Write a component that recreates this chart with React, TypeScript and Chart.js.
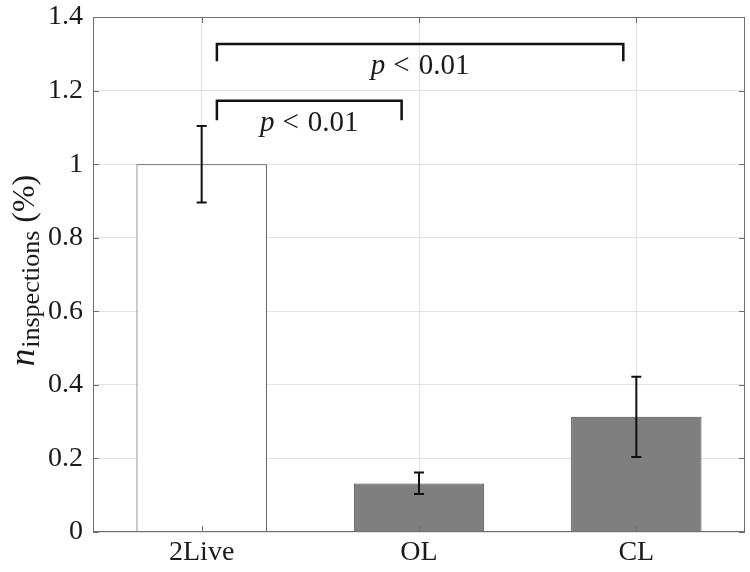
import React, { useEffect, useRef } from "react";
import { Chart, registerables } from "chart.js";

Chart.register(...registerables);

const categories = ["2Live", "OL", "CL"];
const xPositions = [1, 2, 3];
const means = [1.0, 0.132, 0.313];
const errLow = [0.896, 0.103, 0.204];
const errHigh = [1.104, 0.162, 0.422];
const yTickValues = [0, 0.2, 0.4, 0.6, 0.8, 1, 1.2, 1.4];
const yTickLabels = ["0", "0.2", "0.4", "0.6", "0.8", "1", "1.2", "1.4"];
const sigFrom = [1.07, 1.07];
const sigTo = [1.92, 2.94];
const sigTop = [1.172, 1.3265];
const sigLeg = [1.1226, 1.283];
const sigSymbol = ["p", "p"];
const sigRelation = ["<", "<"];
const sigValue = ["0.01", "0.01"];

const FONT = "'Liberation Serif', 'DejaVu Serif', serif";
const AXIS_COLOR = "#6e6e6e";
const GRID_COLOR = "#e3e3e3";
const TEXT_COLOR = "#1a1a1a";

const decorPlugin = {
  id: "decor",
  afterDatasetsDraw(chart: any) {
    const ctx = chart.ctx;
    const xs = chart.scales.x;
    const ys = chart.scales.y;
    const area = chart.chartArea;
    ctx.save();
    // error bars
    ctx.strokeStyle = "#111";
    ctx.lineWidth = 2;
    for (let i = 0; i < means.length; i++) {
      const px = xs.getPixelForValue(xPositions[i]);
      const lo = ys.getPixelForValue(errLow[i]);
      const hi = ys.getPixelForValue(errHigh[i]);
      ctx.beginPath();
      ctx.moveTo(px, lo);
      ctx.lineTo(px, hi);
      ctx.moveTo(px - 5, lo);
      ctx.lineTo(px + 5, lo);
      ctx.moveTo(px - 5, hi);
      ctx.lineTo(px + 5, hi);
      ctx.stroke();
    }
    // box + inward ticks
    ctx.strokeStyle = AXIS_COLOR;
    ctx.lineWidth = 1;
    ctx.strokeRect(area.left + 0.5, area.top + 0.5, area.right - area.left - 1, area.bottom - area.top - 1);
    ctx.beginPath();
    for (const v of xPositions) {
      const px = Math.round(xs.getPixelForValue(v)) + 0.5;
      ctx.moveTo(px, area.bottom);
      ctx.lineTo(px, area.bottom - 6);
      ctx.moveTo(px, area.top);
      ctx.lineTo(px, area.top + 6);
    }
    for (const v of yTickValues) {
      const py = Math.round(ys.getPixelForValue(v)) + 0.5;
      ctx.moveTo(area.left, py);
      ctx.lineTo(area.left + 6, py);
      ctx.moveTo(area.right, py);
      ctx.lineTo(area.right - 6, py);
    }
    ctx.stroke();
    // p-value labels
    ctx.fillStyle = TEXT_COLOR;
    ctx.textBaseline = "alphabetic";
    ctx.textAlign = "left";
    const fs = 29;
    const gap1 = 8;
    const gap2 = 9;
    for (let i = 0; i < sigSymbol.length; i++) {
      const cx = (xs.getPixelForValue(sigFrom[i]) + xs.getPixelForValue(sigTo[i])) / 2;
      const by = ys.getPixelForValue(sigTop[i]) + 30;
      ctx.font = `italic ${fs}px ${FONT}`;
      const w1 = ctx.measureText(sigSymbol[i]).width;
      ctx.font = `${fs}px ${FONT}`;
      const w2 = ctx.measureText(sigRelation[i]).width;
      const w3 = ctx.measureText(sigValue[i]).width;
      let x0 = cx - (w1 + gap1 + w2 + gap2 + w3) / 2;
      ctx.font = `italic ${fs}px ${FONT}`;
      ctx.fillText(sigSymbol[i], x0, by);
      x0 += w1 + gap1;
      ctx.font = `${fs}px ${FONT}`;
      ctx.fillText(sigRelation[i], x0, by);
      x0 += w2 + gap2;
      ctx.fillText(sigValue[i], x0, by);
    }
    // y axis title
    ctx.save();
    ctx.translate(34, 271);
    ctx.rotate(-Math.PI / 2);
    ctx.font = `italic 35px ${FONT}`;
    const wn = ctx.measureText("n").width;
    ctx.font = `26px ${FONT}`;
    const ws = ctx.measureText("inspections").width;
    ctx.font = `32px ${FONT}`;
    const wp = ctx.measureText(" (%)").width;
    let x = -(wn + ws + wp) / 2;
    ctx.font = `italic 35px ${FONT}`;
    ctx.fillText("n", x, 0);
    x += wn + 1;
    ctx.font = `26px ${FONT}`;
    ctx.fillText("inspections", x, 5);
    x += ws;
    ctx.font = `32px ${FONT}`;
    ctx.fillText(" (%)", x, 0);
    ctx.restore();
    ctx.restore();
  },
};

export default function App() {
  const ref = useRef<HTMLCanvasElement>(null);
  useEffect(() => {
    document.body.style.margin = "0";
    const bracketSets = sigFrom.map((f, i) => ({
      type: "line" as const,
      data: [
        { x: f, y: sigLeg[i] },
        { x: f, y: sigTop[i] },
        { x: sigTo[i], y: sigTop[i] },
        { x: sigTo[i], y: sigLeg[i] },
      ],
      borderColor: "#111",
      borderWidth: 2.5,
      pointRadius: 0,
      tension: 0,
      fill: false,
      borderCapStyle: "square" as const,
    }));
    const chart = new Chart(ref.current!, {
      type: "bar",
      data: {
        datasets: [
          {
            type: "bar",
            data: xPositions.map((x, i) => ({ x, y: means[i] })),
            backgroundColor: ["#ffffff", "#7f7f7f", "#7f7f7f"],
            borderColor: ["#3a3a3a", "#4a4a4a", "#4a4a4a"],
            borderWidth: 1,
            barPercentage: 0.6,
            categoryPercentage: 1,
          } as any,
          ...bracketSets,
        ],
      },
      options: {
        animation: false,
        responsive: false,
        devicePixelRatio: 1,
        layout: { padding: { left: 33, right: 5, top: 17, bottom: 0 } },
        plugins: { legend: { display: false }, tooltip: { enabled: false } },
        scales: {
          x: {
            type: "linear",
            min: 0.5,
            max: 3.5,
            offset: false,
            grid: { color: GRID_COLOR, drawTicks: false, offset: false },
            border: { display: false },
            afterBuildTicks: (s: any) => {
              s.ticks = xPositions.map((v) => ({ value: v }));
            },
            afterFit: (s: any) => {
              s.height = 40;
              s.paddingLeft = 0;
              s.paddingRight = 0;
            },
            ticks: {
              padding: 7,
              color: TEXT_COLOR,
              font: { family: FONT, size: 28, lineHeight: 1 },
              maxRotation: 0,
              autoSkip: false,
              callback: (v: any) => {
                const i = xPositions.indexOf(Number(v));
                return i >= 0 ? categories[i] : "";
              },
            },
          },
          y: {
            type: "linear",
            min: 0,
            max: 1.4,
            grid: { color: GRID_COLOR, drawTicks: false },
            border: { display: false },
            afterBuildTicks: (s: any) => {
              s.ticks = yTickValues.map((v) => ({ value: v }));
            },
            afterFit: (s: any) => {
              s.width = 60;
              s.paddingTop = 0;
              s.paddingBottom = 0;
            },
            ticks: {
              padding: 10,
              color: TEXT_COLOR,
              font: { family: FONT, size: 28 },
              callback: (v: any) => {
                const i = yTickValues.findIndex((t) => Math.abs(t - Number(v)) < 1e-9);
                return i >= 0 ? yTickLabels[i] : "";
              },
            },
          },
        },
      },
      plugins: [decorPlugin],
    });
    return () => chart.destroy();
  }, []);
  return (
    <div style={{ width: 750, height: 572 }}>
      <canvas ref={ref} width={750} height={572} />
    </div>
  );
}
